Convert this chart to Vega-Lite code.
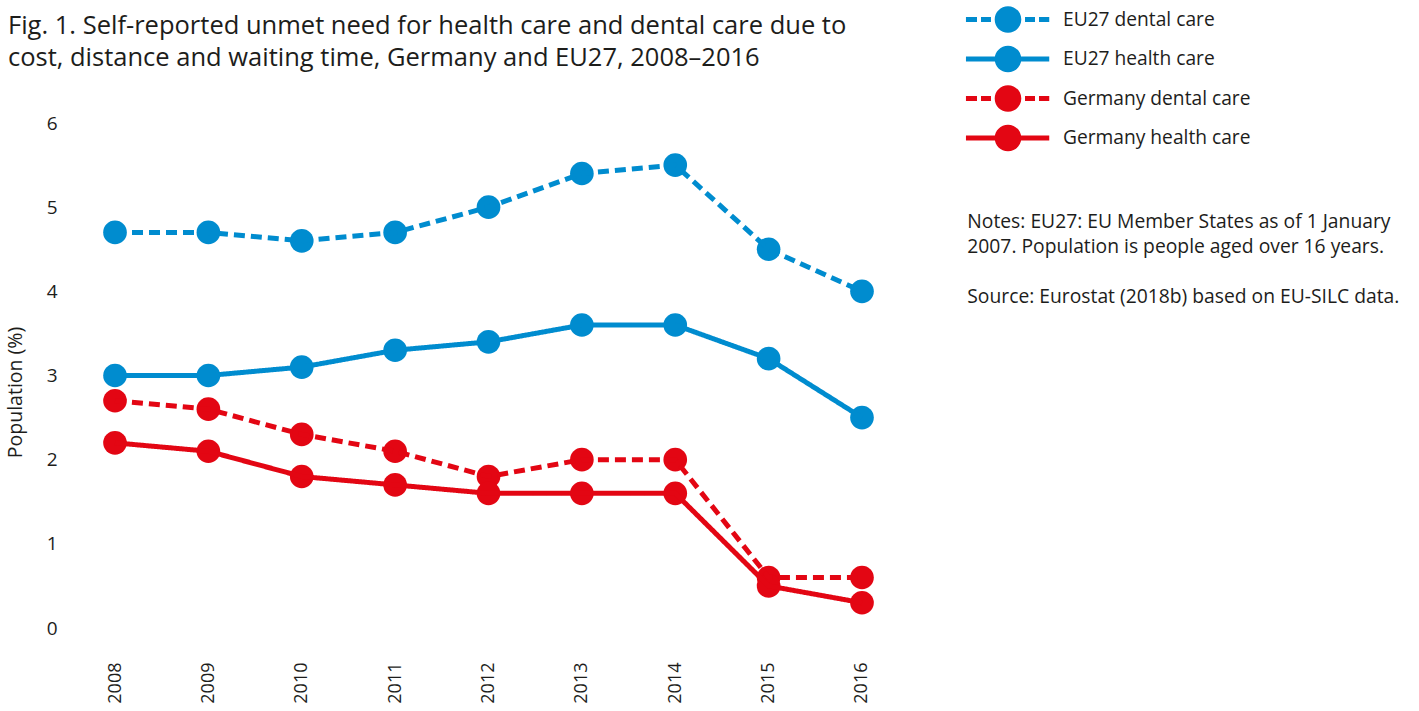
{
  "$schema": "https://vega.github.io/schema/vega-lite/v6.json",
  "width": 803,
  "height": 505,
  "autosize": {"type": "none"},
  "padding": {"left": 87, "top": 123, "right": 529, "bottom": 83},
  "title": {
    "text": ["Fig. 1. Self-reported unmet need for health care and dental care due to", "cost, distance and waiting time, Germany and EU27, 2008–2016"],
    "anchor": "start",
    "frame": "group",
    "fontSize": 25.5,
    "fontWeight": "normal",
    "font": "Open Sans",
    "color": "#1d1d1b",
    "lineHeight": 32,
    "dx": -79,
    "dy": 69
  },
  "config": {
    "view": {"stroke": null},
    "font": "Open Sans"
  },
  "data": {
    "values": [
      {"year": "2008", "series": "EU27 dental care", "value": 4.7},
      {"year": "2009", "series": "EU27 dental care", "value": 4.7},
      {"year": "2010", "series": "EU27 dental care", "value": 4.6},
      {"year": "2011", "series": "EU27 dental care", "value": 4.7},
      {"year": "2012", "series": "EU27 dental care", "value": 5.0},
      {"year": "2013", "series": "EU27 dental care", "value": 5.4},
      {"year": "2014", "series": "EU27 dental care", "value": 5.5},
      {"year": "2015", "series": "EU27 dental care", "value": 4.5},
      {"year": "2016", "series": "EU27 dental care", "value": 4.0},
      {"year": "2008", "series": "EU27 health care", "value": 3.0},
      {"year": "2009", "series": "EU27 health care", "value": 3.0},
      {"year": "2010", "series": "EU27 health care", "value": 3.1},
      {"year": "2011", "series": "EU27 health care", "value": 3.3},
      {"year": "2012", "series": "EU27 health care", "value": 3.4},
      {"year": "2013", "series": "EU27 health care", "value": 3.6},
      {"year": "2014", "series": "EU27 health care", "value": 3.6},
      {"year": "2015", "series": "EU27 health care", "value": 3.2},
      {"year": "2016", "series": "EU27 health care", "value": 2.5},
      {"year": "2008", "series": "Germany dental care", "value": 2.7},
      {"year": "2009", "series": "Germany dental care", "value": 2.6},
      {"year": "2010", "series": "Germany dental care", "value": 2.3},
      {"year": "2011", "series": "Germany dental care", "value": 2.1},
      {"year": "2012", "series": "Germany dental care", "value": 1.8},
      {"year": "2013", "series": "Germany dental care", "value": 2.0},
      {"year": "2014", "series": "Germany dental care", "value": 2.0},
      {"year": "2015", "series": "Germany dental care", "value": 0.6},
      {"year": "2016", "series": "Germany dental care", "value": 0.6},
      {"year": "2008", "series": "Germany health care", "value": 2.2},
      {"year": "2009", "series": "Germany health care", "value": 2.1},
      {"year": "2010", "series": "Germany health care", "value": 1.8},
      {"year": "2011", "series": "Germany health care", "value": 1.7},
      {"year": "2012", "series": "Germany health care", "value": 1.6},
      {"year": "2013", "series": "Germany health care", "value": 1.6},
      {"year": "2014", "series": "Germany health care", "value": 1.6},
      {"year": "2015", "series": "Germany health care", "value": 0.5},
      {"year": "2016", "series": "Germany health care", "value": 0.3}
    ]
  },
  "encoding": {
    "x": {
      "field": "year", "type": "ordinal",
      "scale": {"type": "point", "padding": 0.3},
      "axis": {"title": null, "labelAngle": -90, "labelAlign": "right", "labelBaseline": "middle", "labelPadding": 34, "labelFontSize": 18, "labelColor": "#1d1d1b", "domain": false, "ticks": false, "grid": false}
    },
    "y": {
      "field": "value", "type": "quantitative",
      "scale": {"domain": [0, 6], "nice": false, "zero": true},
      "axis": {"title": "Population (%)", "values": [0, 1, 2, 3, 4, 5, 6], "format": "d", "labelFontSize": 19, "labelColor": "#1d1d1b", "labelPadding": 30, "domain": false, "ticks": false, "grid": false, "titleFontSize": 19.5, "titleFontWeight": "normal", "titleColor": "#1d1d1b", "titleX": -72, "titleY": 269, "titleAngle": -90, "titleAlign": "center", "titleBaseline": "middle"}
    },
    "color": {
      "field": "series", "type": "nominal",
      "scale": {"domain": ["EU27 dental care", "EU27 health care", "Germany dental care", "Germany health care"], "range": ["#008ccf", "#008ccf", "#e30613", "#e30613"]},
      "legend": {
        "title": null,
        "orient": "none",
        "legendX": 907.5,
        "legendY": -117,
        "padding": 0,
        "rowPadding": 12.5,
        "labelFontSize": 19.2,
        "labelColor": "#1d1d1b",
        "labelOffset": 41.5,
        "labelLimit": 400,
        "symbolSize": 708,
        "symbolStrokeWidth": 0,
        "symbolOpacity": 1,
        "symbolType": {"expr": "indexof(datum.value, 'dental') >= 0 ? 'M-3.16,-0.19H-2.33V0.19H-3.16Z M-2.03,-0.19H-1.28V0.19H-2.03Z M1.28,-0.19H2.03V0.19H1.28Z M2.33,-0.19H3.1V0.19H2.33Z M-1,0A1,1,0,1,1,1,0A1,1,0,1,1,-1,0Z' : 'M-3.16,-0.19H-0.97V0.19H-3.16Z M0.97,-0.19H3.1V0.19H0.97Z M-1,0A1,1,0,1,1,1,0A1,1,0,1,1,-1,0Z'"}
      }
    }
  },
  "layer": [
    {
      "mark": {"type": "point", "filled": true, "size": 560, "opacity": 1}
    },
    {
      "mark": {"type": "line", "strokeWidth": 5, "strokeCap": "butt"},
      "encoding": {
        "strokeDash": {
          "field": "series", "type": "nominal",
          "scale": {"domain": ["EU27 dental care", "EU27 health care", "Germany dental care", "Germany health care"], "range": [[11, 6], [1, 0], [11, 6], [1, 0]]},
          "legend": null
        }
      }
    },
    {
      "transform": [{"filter": "false"}],
      "mark": {"type": "point", "opacity": 0},
      "encoding": {
        "x": null,
        "y": null,
        "color": null,
        "shape": {
          "field": "note", "type": "nominal",
          "scale": {"domain": ["Notes: EU27: EU Member States as of 1 January", "2007. Population is people aged over 16 years.", " ", "Source: Eurostat (2018b) based on EU-SILC data."], "range": ["circle"]},
          "legend": {
            "title": null,
            "orient": "none",
            "legendX": 861,
            "legendY": 89.5,
            "padding": 0,
            "rowPadding": 5,
            "labelFontSize": 19.3,
            "labelColor": "#1d1d1b",
            "labelOffset": 0,
            "labelLimit": 600,
            "symbolSize": 0,
            "symbolStrokeWidth": 0,
            "symbolOpacity": 0
          }
        }
      }
    }
  ]
}
